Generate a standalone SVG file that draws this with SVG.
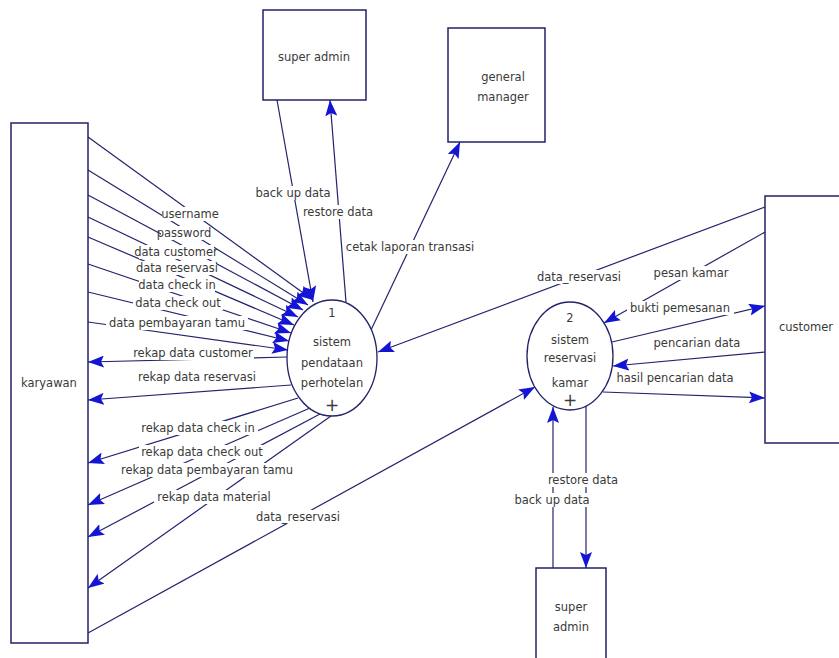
<svg xmlns="http://www.w3.org/2000/svg" width="839" height="658" viewBox="0 0 839 658">
<style>
.box{fill:#fff;stroke:#22226a;stroke-width:1.5}
.proc{fill:#fff;stroke:#22226a;stroke-width:1.3}
.t{font-family:"DejaVu Sans",Verdana,sans-serif;font-size:11.5px;fill:#3a3a3a;text-anchor:middle}
.ln{stroke:#23236e;stroke-width:1.2;fill:none}
.ar{marker-end:url(#ah)}
.bg{fill:#fff}
</style>
<defs>
<marker id="ah" viewBox="0 0 16 12" refX="16" refY="6" markerWidth="16" markerHeight="12" orient="auto" markerUnits="userSpaceOnUse">
<path d="M0,0 L16,6 L0,12 L3,6 z" fill="#1414d4"/>
</marker>
</defs>
<rect width="839" height="658" fill="#fff"/>

<g id="connectors">
<!-- karyawan -> process 1 -->
<line class="ln ar" x1="88" y1="137" x2="313" y2="300"/>
<line class="ln ar" x1="88" y1="170" x2="308" y2="305"/>
<line class="ln ar" x1="88" y1="195" x2="303" y2="310"/>
<line class="ln ar" x1="88" y1="217" x2="298" y2="317"/>
<line class="ln ar" x1="88" y1="237" x2="294" y2="325"/>
<line class="ln ar" x1="88" y1="264" x2="291" y2="333"/>
<line class="ln ar" x1="88" y1="292" x2="289" y2="341"/>
<line class="ln ar" x1="88" y1="322" x2="288" y2="350"/>
<!-- process 1 -> karyawan -->
<line class="ln ar" x1="287" y1="357" x2="88" y2="362"/>
<line class="ln ar" x1="291" y1="385" x2="88" y2="400"/>
<line class="ln ar" x1="298" y1="398" x2="88" y2="463"/>
<line class="ln ar" x1="310" y1="408" x2="88" y2="505"/>
<line class="ln ar" x1="320" y1="414" x2="88" y2="537"/>
<line class="ln ar" x1="331" y1="416" x2="88" y2="588"/>
<!-- super admin / general manager -->
<line class="ln ar" x1="277" y1="100" x2="313" y2="302"/>
<line class="ln ar" x1="346" y1="302" x2="330" y2="100"/>
<line class="ln ar" x1="371" y1="330" x2="460" y2="142"/>
<!-- customer -> process 1 -->
<line class="ln ar" x1="765" y1="207" x2="378" y2="352"/>
<!-- karyawan -> process 2 -->
<line class="ln ar" x1="88" y1="633" x2="535" y2="387"/>
<!-- customer <-> process 2 -->
<line class="ln ar" x1="765" y1="232" x2="604" y2="323"/>
<line class="ln ar" x1="612" y1="342" x2="765" y2="306"/>
<line class="ln ar" x1="765" y1="352" x2="613" y2="366"/>
<line class="ln ar" x1="603" y1="392" x2="765" y2="398"/>
<!-- super admin 2 <-> process 2 -->
<line class="ln ar" x1="553" y1="568" x2="553" y2="407"/>
<line class="ln ar" x1="586" y1="406" x2="586" y2="568"/>

<!-- labels -->
<rect class="bg" x="162" y="207" width="56" height="14"/><text class="t" x="190" y="218">username</text>
<rect class="bg" x="161" y="226" width="45" height="14"/><text class="t" x="184" y="237">password</text>
<rect class="bg" x="139" y="245" width="75" height="14"/><text class="t" x="176" y="256">data customer</text>
<rect class="bg" x="139" y="261" width="77" height="14"/><text class="t" x="177" y="272">data reservasi</text>
<rect class="bg" x="139" y="278" width="76" height="14"/><text class="t" x="177" y="289">data check in</text>
<rect class="bg" x="133" y="296" width="90" height="14"/><text class="t" x="178" y="307">data check out</text>
<rect class="bg" x="106" y="316" width="142" height="14"/><text class="t" x="177" y="327">data pembayaran tamu</text>
<rect class="bg" x="132" y="346" width="122" height="14"/><text class="t" x="193" y="357">rekap data customer</text>
<rect class="bg" x="136" y="370" width="122" height="14"/><text class="t" x="197" y="381">rekap data reservasi</text>
<rect class="bg" x="139" y="421" width="119" height="14"/><text class="t" x="198" y="432">rekap data check in</text>
<rect class="bg" x="139" y="445" width="125" height="14"/><text class="t" x="202" y="456">rekap data check out</text>
<rect class="bg" x="116" y="463" width="182" height="14"/><text class="t" x="207" y="474">rekap data pembayaran tamu</text>
<rect class="bg" x="154" y="490" width="120" height="14"/><text class="t" x="214" y="501">rekap data material</text>
<rect class="bg" x="256" y="510" width="84" height="14"/><text class="t" x="298" y="521">data_reservasi</text>
<rect class="bg" x="253" y="186" width="81" height="14"/><text class="t" x="293" y="197">back up data</text>
<rect class="bg" x="303" y="205" width="71" height="14"/><text class="t" x="338" y="216">restore data</text>
<rect class="bg" x="346" y="240" width="128" height="14"/><text class="t" x="410" y="251">cetak laporan transasi</text>
<rect class="bg" x="536" y="270" width="87" height="14"/><text class="t" x="579" y="281">data_reservasi</text>
<rect class="bg" x="652" y="266" width="79" height="14"/><text class="t" x="691" y="277">pesan kamar</text>
<rect class="bg" x="627" y="301" width="107" height="14"/><text class="t" x="680" y="312">bukti pemesanan</text>
<rect class="bg" x="651" y="336" width="93" height="14"/><text class="t" x="697" y="347">pencarian data</text>
<rect class="bg" x="612" y="371" width="127" height="14"/><text class="t" x="675" y="382">hasil pencarian data</text>
<rect class="bg" x="547" y="473" width="72" height="14"/><text class="t" x="583" y="484">restore data</text>
<rect class="bg" x="514" y="493" width="77" height="14"/><text class="t" x="552" y="504">back up data</text>
</g>

<g id="karyawan">
<rect class="box" x="11" y="123" width="77" height="520"/>
<text class="t" x="49" y="387">karyawan</text>
</g>
<g id="super-admin-1">
<rect class="box" x="263" y="10" width="103" height="90"/>
<text class="t" x="314" y="61">super admin</text>
</g>
<g id="general-manager">
<rect class="box" x="448" y="28" width="97" height="114"/>
<text class="t" x="503" y="81">general</text>
<text class="t" x="503" y="101">manager</text>
</g>
<g id="customer">
<rect class="box" x="765" y="196" width="90" height="247"/>
<text class="t" x="806" y="331">customer</text>
</g>
<g id="super-admin-2">
<rect class="box" x="536" y="568" width="70" height="100"/>
<text class="t" x="571" y="611">super</text>
<text class="t" x="571" y="631">admin</text>
</g>
<g id="process-1">
<ellipse class="proc" cx="332" cy="358" rx="45" ry="58"/>
<text class="t" x="332" y="317">1</text>
<text class="t" x="332" y="346">sistem</text>
<text class="t" x="332" y="367">pendataan</text>
<text class="t" x="332" y="387">perhotelan</text>
<text class="t" x="332" y="411" style="font-size:17px">+</text>
</g>
<g id="process-2">
<ellipse class="proc" cx="570" cy="356" rx="43" ry="54"/>
<text class="t" x="570" y="322">2</text>
<text class="t" x="570" y="344">sistem</text>
<text class="t" x="570" y="362">reservasi</text>
<text class="t" x="570" y="387">kamar</text>
<text class="t" x="570" y="406" style="font-size:17px">+</text>
</g>
</svg>
